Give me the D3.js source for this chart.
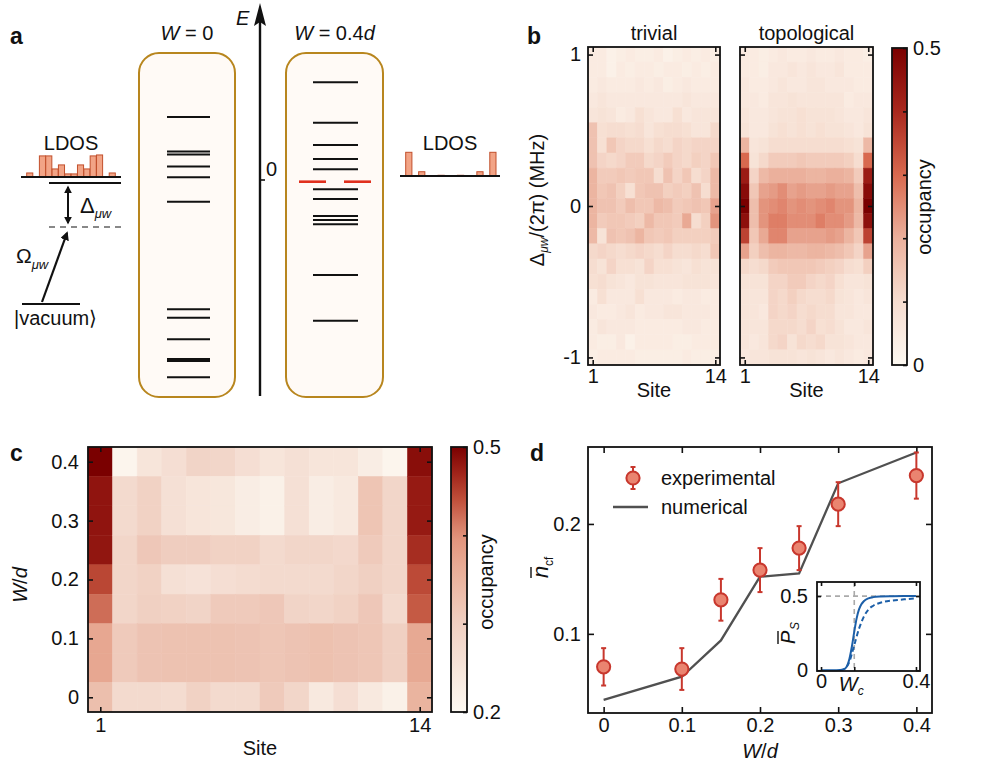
<!DOCTYPE html>
<html>
<head>
<meta charset="utf-8">
<script src="https://cdn.jsdelivr.net/npm/d3@7"></script>
<style>
  body { margin: 0; background: #fff; }
  svg { display: block; }
</style>
</head>
<body>
<script>
// ---------- data ----------
const sites = [1, 2, 3, 4, 5, 6, 7, 8, 9, 10, 11, 12, 13, 14];

// panel a: energy levels (arbitrary units, 0 = zero energy)
const levelsW0 = [0.63, 0.285, 0.255, 0.135, 0.027, -0.217, -1.293, -1.377, -1.593, -1.79, -1.81, -1.973];
const levelsW04 = [0.977, 0.573, 0.35, 0.21, 0.107, -0.093, -0.19, -0.36, -0.40, -0.443, -0.95, -1.407];
const edgeLevel = -0.017;
const ldosTrivial = [0.17, 0, 0.89, 0.89, 0.34, 0.51, 0.13, 0.13, 0.51, 0.34, 0.89, 0.93, 0, 0.17];
const ldosTopo = [1.0, 0, 0.18, 0, 0, 0.03, 0, 0, 0.03, 0, 0, 0.18, 0, 1.0];

// panel b: occupancy vs detuning (rows, top to bottom) and site
const detunings = [1.0, 0.9, 0.8, 0.7, 0.6, 0.5, 0.4, 0.3, 0.2, 0.1, 0.0, -0.1, -0.2, -0.3, -0.4, -0.5, -0.6, -0.7, -0.8, -0.9, -1.0];
const trivialOcc = [
  [0.05, 0.05, 0.03, 0.04, 0.05, 0.04, 0.04, 0.05, 0.03, 0.04, 0.05, 0.04, 0.05, 0.04],
  [0.05, 0.05, 0.03, 0.05, 0.04, 0.05, 0.05, 0.04, 0.05, 0.05, 0.04, 0.05, 0.04, 0.05],
  [0.05, 0.06, 0.05, 0.05, 0.05, 0.06, 0.05, 0.06, 0.04, 0.05, 0.06, 0.05, 0.05, 0.05],
  [0.06, 0.07, 0.06, 0.06, 0.06, 0.06, 0.06, 0.06, 0.06, 0.06, 0.07, 0.06, 0.06, 0.06],
  [0.07, 0.08, 0.07, 0.05, 0.06, 0.09, 0.07, 0.06, 0.06, 0.09, 0.06, 0.07, 0.07, 0.07],
  [0.16, 0.09, 0.10, 0.10, 0.09, 0.10, 0.07, 0.09, 0.10, 0.10, 0.09, 0.07, 0.07, 0.11],
  [0.16, 0.09, 0.15, 0.12, 0.11, 0.11, 0.09, 0.11, 0.10, 0.12, 0.11, 0.12, 0.12, 0.12],
  [0.16, 0.12, 0.11, 0.12, 0.14, 0.14, 0.11, 0.12, 0.14, 0.12, 0.11, 0.13, 0.12, 0.15],
  [0.19, 0.14, 0.14, 0.15, 0.14, 0.15, 0.15, 0.10, 0.16, 0.12, 0.15, 0.10, 0.12, 0.18],
  [0.19, 0.15, 0.16, 0.13, 0.09, 0.15, 0.16, 0.16, 0.13, 0.14, 0.13, 0.16, 0.10, 0.18],
  [0.19, 0.16, 0.16, 0.14, 0.17, 0.15, 0.15, 0.18, 0.17, 0.14, 0.15, 0.16, 0.15, 0.22],
  [0.19, 0.14, 0.15, 0.15, 0.14, 0.13, 0.18, 0.15, 0.15, 0.14, 0.21, 0.10, 0.13, 0.24],
  [0.18, 0.08, 0.16, 0.15, 0.16, 0.19, 0.15, 0.14, 0.15, 0.13, 0.13, 0.13, 0.13, 0.14],
  [0.11, 0.12, 0.11, 0.10, 0.11, 0.12, 0.11, 0.10, 0.12, 0.10, 0.10, 0.11, 0.10, 0.15],
  [0.10, 0.08, 0.12, 0.09, 0.09, 0.08, 0.12, 0.09, 0.09, 0.08, 0.07, 0.09, 0.08, 0.08],
  [0.09, 0.10, 0.08, 0.07, 0.06, 0.08, 0.08, 0.07, 0.07, 0.07, 0.08, 0.08, 0.08, 0.07],
  [0.05, 0.09, 0.06, 0.06, 0.06, 0.09, 0.06, 0.06, 0.06, 0.05, 0.06, 0.06, 0.05, 0.05],
  [0.06, 0.05, 0.05, 0.06, 0.07, 0.05, 0.06, 0.06, 0.07, 0.07, 0.06, 0.06, 0.06, 0.05],
  [0.05, 0.07, 0.06, 0.06, 0.06, 0.05, 0.05, 0.05, 0.05, 0.05, 0.06, 0.06, 0.05, 0.05],
  [0.05, 0.04, 0.04, 0.06, 0.03, 0.05, 0.05, 0.05, 0.05, 0.04, 0.04, 0.05, 0.05, 0.05],
  [0.04, 0.05, 0.05, 0.05, 0.05, 0.04, 0.04, 0.04, 0.04, 0.04, 0.05, 0.04, 0.04, 0.04]
];
const topoOcc = [
  [0.05, 0.05, 0.04, 0.05, 0.06, 0.05, 0.05, 0.06, 0.05, 0.05, 0.06, 0.05, 0.05, 0.04],
  [0.05, 0.05, 0.04, 0.06, 0.06, 0.07, 0.06, 0.07, 0.06, 0.06, 0.07, 0.05, 0.05, 0.05],
  [0.06, 0.05, 0.05, 0.06, 0.07, 0.06, 0.06, 0.07, 0.07, 0.06, 0.06, 0.06, 0.05, 0.05],
  [0.06, 0.06, 0.05, 0.07, 0.07, 0.08, 0.07, 0.07, 0.07, 0.07, 0.07, 0.05, 0.06, 0.06],
  [0.07, 0.06, 0.06, 0.07, 0.08, 0.08, 0.09, 0.08, 0.08, 0.08, 0.07, 0.06, 0.06, 0.07],
  [0.08, 0.06, 0.06, 0.08, 0.09, 0.08, 0.09, 0.08, 0.09, 0.08, 0.08, 0.07, 0.06, 0.08],
  [0.19, 0.07, 0.08, 0.10, 0.10, 0.10, 0.10, 0.10, 0.10, 0.10, 0.10, 0.09, 0.08, 0.18],
  [0.30, 0.08, 0.11, 0.14, 0.14, 0.14, 0.15, 0.14, 0.14, 0.14, 0.14, 0.13, 0.10, 0.30],
  [0.43, 0.12, 0.18, 0.20, 0.20, 0.20, 0.20, 0.19, 0.19, 0.20, 0.20, 0.19, 0.14, 0.43],
  [0.47, 0.15, 0.22, 0.23, 0.25, 0.22, 0.23, 0.22, 0.22, 0.23, 0.22, 0.22, 0.17, 0.47],
  [0.50, 0.17, 0.24, 0.25, 0.26, 0.24, 0.25, 0.24, 0.25, 0.26, 0.24, 0.24, 0.19, 0.50],
  [0.46, 0.17, 0.24, 0.27, 0.27, 0.25, 0.25, 0.25, 0.27, 0.25, 0.25, 0.23, 0.18, 0.46],
  [0.36, 0.15, 0.21, 0.26, 0.26, 0.22, 0.22, 0.22, 0.22, 0.23, 0.22, 0.19, 0.15, 0.36],
  [0.22, 0.13, 0.17, 0.19, 0.19, 0.18, 0.18, 0.19, 0.19, 0.18, 0.17, 0.15, 0.12, 0.22],
  [0.11, 0.10, 0.11, 0.14, 0.15, 0.15, 0.15, 0.15, 0.14, 0.13, 0.12, 0.10, 0.09, 0.13],
  [0.08, 0.08, 0.08, 0.12, 0.12, 0.14, 0.14, 0.12, 0.11, 0.12, 0.09, 0.07, 0.07, 0.08],
  [0.07, 0.07, 0.07, 0.12, 0.11, 0.13, 0.11, 0.10, 0.10, 0.11, 0.08, 0.07, 0.06, 0.07],
  [0.07, 0.07, 0.06, 0.12, 0.11, 0.12, 0.10, 0.11, 0.10, 0.10, 0.07, 0.07, 0.06, 0.06],
  [0.07, 0.07, 0.07, 0.11, 0.11, 0.11, 0.10, 0.12, 0.09, 0.10, 0.08, 0.06, 0.06, 0.07],
  [0.07, 0.06, 0.07, 0.11, 0.12, 0.08, 0.11, 0.10, 0.11, 0.08, 0.08, 0.07, 0.06, 0.06],
  [0.06, 0.07, 0.07, 0.08, 0.08, 0.08, 0.07, 0.08, 0.07, 0.06, 0.07, 0.06, 0.05, 0.06]
];

// panel c: occupancy vs disorder strength W/d (rows, top to bottom) and site
const disorderW = [0.4, 0.35, 0.3, 0.25, 0.2, 0.15, 0.1, 0.05, 0];
const disorderOcc = [
  [0.500, 0.210, 0.250, 0.265, 0.290, 0.285, 0.265, 0.250, 0.260, 0.250, 0.250, 0.230, 0.210, 0.488],
  [0.483, 0.275, 0.295, 0.260, 0.250, 0.245, 0.230, 0.220, 0.260, 0.230, 0.240, 0.320, 0.285, 0.478],
  [0.483, 0.275, 0.295, 0.260, 0.250, 0.245, 0.230, 0.220, 0.260, 0.230, 0.240, 0.320, 0.285, 0.478],
  [0.482, 0.285, 0.315, 0.305, 0.305, 0.295, 0.295, 0.275, 0.285, 0.285, 0.280, 0.310, 0.285, 0.464],
  [0.446, 0.285, 0.295, 0.260, 0.255, 0.265, 0.270, 0.275, 0.275, 0.275, 0.285, 0.300, 0.285, 0.444],
  [0.422, 0.285, 0.300, 0.295, 0.290, 0.310, 0.310, 0.315, 0.290, 0.285, 0.295, 0.315, 0.275, 0.434],
  [0.370, 0.310, 0.322, 0.325, 0.325, 0.325, 0.322, 0.318, 0.322, 0.327, 0.322, 0.318, 0.300, 0.368],
  [0.370, 0.310, 0.322, 0.325, 0.325, 0.325, 0.322, 0.318, 0.322, 0.327, 0.322, 0.318, 0.300, 0.368],
  [0.330, 0.275, 0.275, 0.270, 0.295, 0.275, 0.275, 0.310, 0.285, 0.240, 0.265, 0.240, 0.220, 0.350]
];

// panel d: mean occupancy in the center vs W/d
const dW = [0, 0.1, 0.15, 0.2, 0.25, 0.3, 0.4];
const ncfExp = [0.070, 0.068, 0.131, 0.158, 0.178, 0.218, 0.244];
const ncfErr = [0.017, 0.019, 0.019, 0.020, 0.020, 0.020, 0.021];
const ncfNum = [0.040, 0.061, 0.094, 0.152, 0.155, 0.237, 0.265];

// inset: P_S vs W/d
const Wc = 0.14;
const psX = [0, 0.05, 0.08, 0.10, 0.11, 0.12, 0.13, 0.14, 0.15, 0.16, 0.17, 0.18, 0.20, 0.22, 0.25, 0.30, 0.35, 0.40];
const psSolid = [0, 0, 0.002, 0.01, 0.03, 0.08, 0.16, 0.26, 0.35, 0.41, 0.445, 0.465, 0.485, 0.493, 0.497, 0.499, 0.5, 0.5];
const psDashX = [0.08, 0.10, 0.12, 0.14, 0.16, 0.18, 0.20, 0.22, 0.25, 0.30, 0.35, 0.40];
const psDashed = [0, 0.01, 0.06, 0.17, 0.28, 0.36, 0.41, 0.435, 0.455, 0.47, 0.478, 0.485];

// ---------- setup ----------
const width = 997, height = 774;
const FONT = "'Liberation Sans', Arial, Helvetica, sans-serif";
const INK = "#111";
const FS = 20; // main text size

const svg = d3.select("body").append("svg")
  .attr("width", width)
  .attr("height", height)
  .style("font-family", FONT);
const defs = svg.append("defs");

defs.append("marker")
  .attr("id", "head")
  .attr("viewBox", "0 0 10 10")
  .attr("refX", 8).attr("refY", 5)
  .attr("markerWidth", 4).attr("markerHeight", 4)
  .attr("orient", "auto-start-reverse")
  .append("path").attr("d", "M0,0 L10,5 L0,10 z").attr("fill", INK);

// colour maps
const colorB = d3.scaleLinear()
  .domain([0, 0.1, 0.2, 0.3, 0.4, 0.5])
  .range(["#fdf9f2", "#f6ddd0", "#ebb09c", "#d8694f", "#a9281e", "#7a0000"])
  .clamp(true);
const colorC = d3.scaleLinear()
  .domain([0.2, 0.3, 0.365, 0.4, 0.44, 0.47, 0.5])
  .range(["#fdf9f2", "#f0d0c2", "#e8ab95", "#e0917a", "#c0503b", "#a0241a", "#7a0000"])
  .clamp(true);

function gradient(id, color) {
  const [lo, hi] = d3.extent(color.domain());
  const g = defs.append("linearGradient").attr("id", id)
    .attr("x1", 0).attr("y1", 1).attr("x2", 0).attr("y2", 0);
  d3.range(0, 1.0001, 0.05).forEach(t => {
    g.append("stop").attr("offset", t).attr("stop-color", color(lo + t * (hi - lo)));
  });
}
gradient("gradB", colorB);
gradient("gradC", colorC);

function styleAxis(sel, size = FS) {
  sel.select(".domain").remove();
  sel.selectAll(".tick line").attr("stroke", INK).attr("stroke-width", 1.6);
  sel.selectAll(".tick text").attr("font-size", size).attr("font-family", FONT).attr("fill", INK);
}

function frame(g, x0, y0, x1, y1) {
  g.append("rect")
    .attr("x", x0).attr("y", y0)
    .attr("width", x1 - x0).attr("height", y1 - y0)
    .attr("fill", "none").attr("stroke", INK).attr("stroke-width", 1.8);
}

function label(g, txt, x, y, opts = {}) {
  const t = g.append("text")
    .attr("x", x).attr("y", y)
    .attr("font-size", opts.size || FS)
    .attr("text-anchor", opts.anchor || "middle")
    .attr("fill", INK)
    .text(txt);
  if (opts.rotate) t.attr("transform", `rotate(${opts.rotate},${x},${y})`);
  if (opts.weight) t.attr("font-weight", opts.weight);
  if (opts.italic) t.attr("font-style", "italic");
  return t;
}

// heatmap cells
function heatmap(g, data, rows, half, x, y, color) {
  data.forEach((row, i) => row.forEach((v, j) => {
    const x0 = x(sites[j] - 0.5), x1 = x(sites[j] + 0.5);
    const y0 = y(rows[i] + half), y1 = y(rows[i] - half);
    g.append("rect")
      .attr("x", x0).attr("y", y0)
      .attr("width", x1 - x0).attr("height", y1 - y0)
      .attr("fill", color(v)).attr("stroke", color(v)).attr("stroke-width", 0.5);
  }));
}

// panel letters
[["a", 10, 44], ["b", 527, 44], ["c", 10, 461], ["d", 530, 461]].forEach(([t, x, y]) =>
  label(svg, t, x, y, { size: 23, weight: "bold", anchor: "start" }));

// ---------- panel a ----------
const ga = svg.append("g");
const eScale = d3.scaleLinear().domain([0, 1]).range([180, 80]);

// spectrum boxes
const boxes = [
  { x0: 139, x1: 235, levels: levelsW0, lx0: 167, lx1: 210, title: ["W", " = 0", ""] },
  { x0: 286, x1: 383, levels: levelsW04, lx0: 313, lx1: 358, title: ["W", " = 0.4", "d"] }
];
boxes.forEach(b => {
  ga.append("rect")
    .attr("x", b.x0).attr("y", 53)
    .attr("width", b.x1 - b.x0).attr("height", 344)
    .attr("rx", 20).attr("ry", 20)
    .attr("fill", "#fffaf6").attr("stroke", "#b8861e").attr("stroke-width", 2);
  ga.selectAll(null).data(b.levels).enter().append("line")
    .attr("x1", b.lx0).attr("x2", b.lx1)
    .attr("y1", d => eScale(d)).attr("y2", d => eScale(d))
    .attr("stroke", INK).attr("stroke-width", 2);
  const t = ga.append("text")
    .attr("x", (b.x0 + b.x1) / 2).attr("y", 40)
    .attr("font-size", FS).attr("text-anchor", "middle").attr("fill", INK);
  t.append("tspan").attr("font-style", "italic").text(b.title[0]);
  t.append("tspan").text(b.title[1]);
  t.append("tspan").attr("font-style", "italic").text(b.title[2]);
});
// edge state (red, split) in W = 0.4d spectrum
[[299, 326], [344, 371]].forEach(([a, b]) => {
  ga.append("line")
    .attr("x1", a).attr("x2", b)
    .attr("y1", eScale(edgeLevel)).attr("y2", eScale(edgeLevel))
    .attr("stroke", "#e0301e").attr("stroke-width", 2.6);
});

// energy axis
ga.append("line").attr("x1", 260).attr("x2", 260).attr("y1", 396).attr("y2", 20)
  .attr("stroke", INK).attr("stroke-width", 2.4);
ga.append("path").attr("d", "M260,3 L254,26 L260,22 L266,26 Z").attr("fill", INK);
ga.append("line").attr("x1", 260).attr("x2", 265).attr("y1", eScale(0)).attr("y2", eScale(0))
  .attr("stroke", INK).attr("stroke-width", 1.6);
label(ga, "0", 266, eScale(0) - 4, { anchor: "start" });
label(ga, "E", 236, 25, { anchor: "start", italic: true });

// LDOS histograms
function ldos(values, x0, x1, base) {
  const xb = d3.scaleBand().domain(sites).range([x0, x1]).paddingInner(0.04);
  const hb = d3.scaleLinear().domain([0, 1]).range([0, 23.7]);
  ga.selectAll(null).data(values).enter().append("rect")
    .attr("x", (d, i) => xb(sites[i]))
    .attr("y", d => base - hb(d))
    .attr("width", xb.bandwidth())
    .attr("height", d => hb(d))
    .attr("fill", "#f2a486").attr("stroke", "#c2502c").attr("stroke-width", 1);
}
ldos(ldosTrivial, 26.7, 115.3, 177);
ga.append("line").attr("x1", 21).attr("x2", 121).attr("y1", 177).attr("y2", 177)
  .attr("stroke", INK).attr("stroke-width", 2);
label(ga, "LDOS", 71, 150);
ldos(ldosTopo, 405.7, 496, 176);
ga.append("line").attr("x1", 400).attr("x2", 500).attr("y1", 176).attr("y2", 176)
  .attr("stroke", INK).attr("stroke-width", 2);
label(ga, "LDOS", 450, 150);

// driving scheme
ga.append("line").attr("x1", 49).attr("x2", 121).attr("y1", 183).attr("y2", 183)
  .attr("stroke", INK).attr("stroke-width", 2);
ga.append("line").attr("x1", 49).attr("x2", 121).attr("y1", 227).attr("y2", 227)
  .attr("stroke", "#888").attr("stroke-width", 1.8).attr("stroke-dasharray", "6,5");
ga.append("line").attr("x1", 68).attr("x2", 68).attr("y1", 187).attr("y2", 223)
  .attr("stroke", INK).attr("stroke-width", 2)
  .attr("marker-start", "url(#head)").attr("marker-end", "url(#head)");
ga.append("line").attr("x1", 42).attr("x2", 67).attr("y1", 302).attr("y2", 233)
  .attr("stroke", INK).attr("stroke-width", 2.2)
  .attr("marker-end", "url(#head)");
ga.append("line").attr("x1", 22).attr("x2", 80).attr("y1", 304).attr("y2", 304)
  .attr("stroke", INK).attr("stroke-width", 2);

const delta = ga.append("text").attr("x", 80).attr("y", 213).attr("fill", INK).attr("font-size", 22);
delta.append("tspan").text("Δ");
delta.append("tspan").attr("font-size", 13).attr("font-style", "italic").attr("dy", 5).text("μw");
const omega = ga.append("text").attr("x", 16).attr("y", 263).attr("fill", INK).attr("font-size", 21);
omega.append("tspan").text("Ω");
omega.append("tspan").attr("font-size", 13).attr("font-style", "italic").attr("dy", 6).text("μw");
label(ga, "|vacuum⟩", 14, 325, { anchor: "start" });

// ---------- panel b ----------
const gb = svg.append("g");
const yb = d3.scaleLinear().domain([-1.05, 1.05]).range([365, 47]);
const panelsB = [
  { data: trivialOcc, x: d3.scaleLinear().domain([0.5, 14.5]).range([588, 720]), title: "trivial", labels: true },
  { data: topoOcc, x: d3.scaleLinear().domain([0.5, 14.5]).range([740, 873]), title: "topological", labels: false }
];
panelsB.forEach(p => {
  heatmap(gb, p.data, detunings, 0.05, p.x, yb, colorB);
  const [x0, x1] = p.x.range();
  gb.append("g").attr("transform", `translate(${x0},0)`)
    .call(d3.axisLeft(yb).tickValues([-1, 0, 1]).tickSize(-5).tickPadding(7)
      .tickFormat(d => p.labels ? String(d) : ""))
    .call(styleAxis);
  gb.append("g").attr("transform", `translate(${x1},0)`)
    .call(d3.axisRight(yb).tickValues([-1, 0, 1]).tickSize(-5).tickFormat(""))
    .call(styleAxis);
  gb.append("g").attr("transform", "translate(0,365)")
    .call(d3.axisBottom(p.x).tickValues([1, 14]).tickSize(-5).tickPadding(4))
    .call(styleAxis);
  gb.append("g").attr("transform", "translate(0,47)")
    .call(d3.axisTop(p.x).tickValues([1, 14]).tickSize(-5).tickFormat(""))
    .call(styleAxis);
  frame(gb, x0, 47, x1, 365);
  label(gb, p.title, (x0 + x1) / 2, 40);
  label(gb, "Site", (x0 + x1) / 2, 397);
});
// y label
const ybl = gb.append("text")
  .attr("transform", "translate(544,200) rotate(-90)")
  .attr("text-anchor", "middle").attr("font-size", FS).attr("fill", INK);
ybl.append("tspan").text("Δ");
ybl.append("tspan").attr("font-size", 12).attr("font-style", "italic").attr("dy", 4).text("μw");
ybl.append("tspan").attr("dy", -4).text("/(2π) (MHz)");

// colour bar b
const cbB = d3.scaleLinear().domain([0, 0.5]).range([365, 48]);
gb.append("rect").attr("x", 892).attr("y", 48).attr("width", 15).attr("height", 317)
  .attr("fill", "url(#gradB)");
gb.append("g").attr("transform", "translate(907,0)")
  .call(d3.axisRight(cbB).tickValues([0, 0.1, 0.2, 0.3, 0.4, 0.5]).tickSize(-4).tickPadding(6)
    .tickFormat(d => (d === 0 || d === 0.5) ? String(d) : ""))
  .call(styleAxis);
frame(gb, 892, 48, 907, 365);
label(gb, "occupancy", 931, 207, { rotate: -90 });

// ---------- panel c ----------
const gc = svg.append("g");
const xc = d3.scaleLinear().domain([0.5, 14.5]).range([88, 432]);
const yc = d3.scaleLinear().domain([-0.025, 0.425]).range([712, 447]);
heatmap(gc, disorderOcc, disorderW, 0.025, xc, yc, colorC);
gc.append("g").attr("transform", "translate(88,0)")
  .call(d3.axisLeft(yc).tickValues([0, 0.1, 0.2, 0.3, 0.4]).tickSize(-5).tickPadding(9)
    .tickFormat(d => d === 0 ? "0" : d3.format(".1f")(d)))
  .call(styleAxis);
gc.append("g").attr("transform", "translate(432,0)")
  .call(d3.axisRight(yc).tickValues([0, 0.1, 0.2, 0.3, 0.4]).tickSize(-5).tickFormat(""))
  .call(styleAxis);
gc.append("g").attr("transform", "translate(0,712)")
  .call(d3.axisBottom(xc).tickValues([1, 14]).tickSize(-5).tickPadding(6))
  .call(styleAxis);
gc.append("g").attr("transform", "translate(0,447)")
  .call(d3.axisTop(xc).tickValues([1, 14]).tickSize(-5).tickFormat(""))
  .call(styleAxis);
frame(gc, 88, 447, 432, 712);
label(gc, "Site", 260, 755);
const wdc = gc.append("text").attr("transform", "translate(27,585) rotate(-90)")
  .attr("text-anchor", "middle").attr("font-size", FS).attr("fill", INK);
wdc.append("tspan").attr("font-style", "italic").text("W");
wdc.append("tspan").text("/");
wdc.append("tspan").attr("font-style", "italic").text("d");

// colour bar c
const cbC = d3.scaleLinear().domain([0.2, 0.5]).range([712, 447]);
gc.append("rect").attr("x", 451).attr("y", 447).attr("width", 16).attr("height", 265)
  .attr("fill", "url(#gradC)");
gc.append("g").attr("transform", "translate(467,0)")
  .call(d3.axisRight(cbC).tickValues([0.2, 0.3, 0.4, 0.5]).tickSize(-4).tickPadding(6)
    .tickFormat(d => (d === 0.2 || d === 0.5) ? d3.format(".1f")(d) : ""))
  .call(styleAxis);
frame(gc, 451, 447, 467, 712);
label(gc, "occupancy", 493, 582, { rotate: -90 });

// ---------- panel d ----------
const gd = svg.append("g");
const xd = d3.scaleLinear().domain([-0.02, 0.42]).range([588, 932]);
const yd = d3.scaleLinear().domain([0.028, 0.27]).range([713, 447]);
const fmtD = d => d === 0 ? "0" : d3.format(".1f")(d);
gd.append("g").attr("transform", "translate(0,713)")
  .call(d3.axisBottom(xd).tickValues([0, 0.1, 0.2, 0.3, 0.4]).tickSize(-6).tickPadding(5).tickFormat(fmtD))
  .call(styleAxis);
gd.append("g").attr("transform", "translate(0,447)")
  .call(d3.axisTop(xd).tickValues([0, 0.1, 0.2, 0.3, 0.4]).tickSize(-6).tickFormat(""))
  .call(styleAxis);
gd.append("g").attr("transform", "translate(588,0)")
  .call(d3.axisLeft(yd).tickValues([0.1, 0.2]).tickSize(-6).tickPadding(7).tickFormat(fmtD))
  .call(styleAxis);
gd.append("g").attr("transform", "translate(932,0)")
  .call(d3.axisRight(yd).tickValues([0.1, 0.2]).tickSize(-6).tickFormat(""))
  .call(styleAxis);

// numerical line
gd.append("path")
  .datum(dW.map((w, i) => [w, ncfNum[i]]))
  .attr("d", d3.line().x(d => xd(d[0])).y(d => yd(d[1])))
  .attr("fill", "none").attr("stroke", "#505050").attr("stroke-width", 2.3);

// experimental points
const RED = "#c8372d", SALMON = "#ea8470";
function errPoint(g, cx, cy, lo, hi) {
  g.append("line").attr("x1", cx).attr("x2", cx).attr("y1", lo).attr("y2", hi)
    .attr("stroke", RED).attr("stroke-width", 2);
  [lo, hi].forEach(y => g.append("line").attr("x1", cx - 2.5).attr("x2", cx + 2.5)
    .attr("y1", y).attr("y2", y).attr("stroke", RED).attr("stroke-width", 2));
  g.append("circle").attr("cx", cx).attr("cy", cy).attr("r", 6.6)
    .attr("fill", SALMON).attr("stroke", RED).attr("stroke-width", 2);
}
dW.forEach((w, i) => errPoint(gd, xd(w), yd(ncfExp[i]), yd(ncfExp[i] - ncfErr[i]), yd(ncfExp[i] + ncfErr[i])));
frame(gd, 588, 447, 932, 713);

// legend
errPoint(gd, 633, 478, 467, 489);
label(gd, "experimental", 661, 485, { anchor: "start" });
gd.append("line").attr("x1", 613).attr("x2", 648).attr("y1", 507).attr("y2", 507)
  .attr("stroke", "#505050").attr("stroke-width", 2.3);
label(gd, "numerical", 661, 514, { anchor: "start" });

// axis labels
const wdd = gd.append("text").attr("x", 760).attr("y", 758)
  .attr("text-anchor", "middle").attr("font-size", FS).attr("fill", INK);
wdd.append("tspan").attr("font-style", "italic").text("W");
wdd.append("tspan").text("/");
wdd.append("tspan").attr("font-style", "italic").text("d");

const ncfLab = gd.append("g").attr("transform", "translate(548,578) rotate(-90)");
ncfLab.append("text").attr("x", 0).attr("y", 0).attr("font-size", 22).attr("font-style", "italic")
  .attr("fill", INK).text("n");
ncfLab.append("line").attr("x1", 0).attr("x2", 11).attr("y1", -17).attr("y2", -17)
  .attr("stroke", INK).attr("stroke-width", 1.4);
ncfLab.append("text").attr("x", 12).attr("y", 5).attr("font-size", 12).attr("fill", INK).text("cf");

// inset
const xi = d3.scaleLinear().domain([-0.017, 0.417]).range([817, 920]);
const yi = d3.scaleLinear().domain([-0.005, 0.595]).range([671, 582]);
gd.append("rect").attr("x", 817).attr("y", 582).attr("width", 103).attr("height", 89).attr("fill", "#fff");
gd.append("line").attr("x1", 817).attr("x2", 920).attr("y1", yi(0.5)).attr("y2", yi(0.5))
  .attr("stroke", "#aaa").attr("stroke-width", 1.6).attr("stroke-dasharray", "5,4");
gd.append("line").attr("x1", xi(Wc)).attr("x2", xi(Wc)).attr("y1", 582).attr("y2", 671)
  .attr("stroke", "#aaa").attr("stroke-width", 1.6).attr("stroke-dasharray", "5,4");
const lineI = d3.line().x(d => xi(d[0])).y(d => yi(d[1])).curve(d3.curveMonotoneX);
gd.append("path").datum(psX.map((x, i) => [x, psSolid[i]]))
  .attr("d", lineI).attr("fill", "none").attr("stroke", "#1c5fa8").attr("stroke-width", 2);
gd.append("path").datum(psDashX.map((x, i) => [x, psDashed[i]]))
  .attr("d", lineI).attr("fill", "none").attr("stroke", "#1c5fa8").attr("stroke-width", 2)
  .attr("stroke-dasharray", "5,3");
gd.append("g").attr("transform", "translate(0,671)")
  .call(d3.axisBottom(xi).tickValues([0, Wc, 0.4]).tickSize(-4).tickPadding(3)
    .tickFormat(d => d === Wc ? "" : fmtD(d)))
  .call(styleAxis);
gd.append("g").attr("transform", "translate(0,582)")
  .call(d3.axisTop(xi).tickValues([0, Wc, 0.4]).tickSize(-4).tickFormat(""))
  .call(styleAxis);
gd.append("g").attr("transform", "translate(817,0)")
  .call(d3.axisLeft(yi).tickValues([0, 0.5]).tickSize(-4).tickPadding(9).tickFormat(fmtD))
  .call(styleAxis);
gd.append("g").attr("transform", "translate(920,0)")
  .call(d3.axisRight(yi).tickValues([0, 0.5]).tickSize(-4).tickFormat(""))
  .call(styleAxis);
frame(gd, 817, 582, 920, 671);
const wcl = gd.append("text").attr("x", xi(Wc) - 3).attr("y", 691)
  .attr("text-anchor", "middle").attr("font-size", FS).attr("fill", INK);
wcl.append("tspan").attr("font-style", "italic").text("W");
wcl.append("tspan").attr("font-size", 12).attr("font-style", "italic").attr("dy", 4).text("c");

const psLab = gd.append("g").attr("transform", "translate(795,644) rotate(-90)");
psLab.append("text").attr("x", 0).attr("y", 0).attr("font-size", FS).attr("font-style", "italic")
  .attr("fill", INK).text("P");
psLab.append("line").attr("x1", 0).attr("x2", 13).attr("y1", -17).attr("y2", -17)
  .attr("stroke", INK).attr("stroke-width", 1.4);
psLab.append("text").attr("x", 14).attr("y", 4).attr("font-size", 12).attr("font-style", "italic")
  .attr("fill", INK).text("S");
</script>
</body>
</html>
